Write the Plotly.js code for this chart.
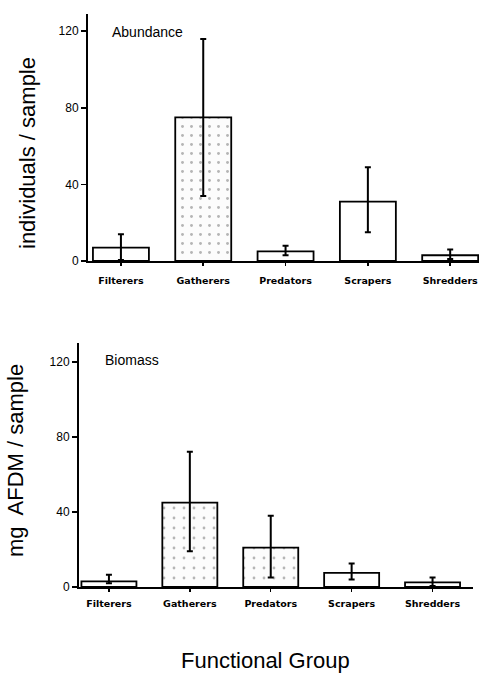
<!DOCTYPE html>
<html>
<head>
<meta charset="utf-8">
<script src="https://cdn.plot.ly/plotly-3.0.1.min.js"></script>
<style>html,body{margin:0;padding:0;background:#fff;}#chart{width:479px;height:675px;}</style>
</head>
<body>
<div id="chart"></div>
<script>
var categories = ["Filterers", "Gatherers", "Predators", "Scrapers", "Shredders"];
var tickLabels = ["Filterers", "Gatherers", "Predators", "Scrapers", "Shredders"];

var abundanceMean  = [7, 75, 5, 31, 3];
var abundanceUpper = [14, 116, 8, 49, 6];
var abundanceLower = [0.5, 34, 3, 15, 1];

var biomassMean  = [3, 45, 21, 7.5, 2.5];
var biomassUpper = [6.5, 72, 38, 12.5, 5];
var biomassLower = [2, 19, 5, 4, 0.5];

var yTicks = [0, 40, 80, 120];

function diff(a, b) { return a.map(function (v, i) { return Math.abs(v - b[i]); }); }

var barLine = {color: "#000", width: 1.8};
var errStyle = {type: "data", symmetric: false, color: "#000", thickness: 2, width: 3};

var traces = [
  {
    type: "bar", x: categories, y: abundanceMean, xaxis: "x", yaxis: "y",
    marker: {color: "#fff", line: barLine,
      pattern: {shape: ["", ".", "", "", ""], fgcolor: "#b5b5b5", bgcolor: "#fcfcfc", size: 9, solidity: 0.08}},
    error_y: Object.assign({array: diff(abundanceUpper, abundanceMean), arrayminus: diff(abundanceMean, abundanceLower)}, errStyle),
    hoverinfo: "none", showlegend: false
  },
  {
    type: "bar", x: categories, y: biomassMean, xaxis: "x2", yaxis: "y2",
    marker: {color: "#fff", line: barLine,
      pattern: {shape: ["", ".", ".", "", ""], fgcolor: "#b5b5b5", bgcolor: "#fcfcfc", size: 10, solidity: 0.06}},
    error_y: Object.assign({array: diff(biomassUpper, biomassMean), arrayminus: diff(biomassMean, biomassLower)}, errStyle),
    hoverinfo: "none", showlegend: false
  }
];

var H = 675, W = 479;
var tickFont = {family: "Liberation Sans, Arial, sans-serif", size: 12, color: "#000"};
var catFont = {family: "DejaVu Sans, sans-serif", size: 9.5, color: "#000", weight: "bold"};
var titleFont = {family: "Liberation Sans, Arial, sans-serif", size: 22, color: "#000"};

function xAxis(domain, anchor, range, standoff) {
  return {domain: domain, anchor: anchor, range: range, type: "category",
    tickvals: categories, ticktext: tickLabels,
    showline: true, linecolor: "#000", linewidth: 2, ticks: "outside", ticklen: 3, tickwidth: 1.5, tickcolor: "#000",
    ticklabelstandoff: standoff,
    tickfont: catFont, showgrid: false, zeroline: false, fixedrange: true};
}
function yAxis(domain, anchor, range) {
  return {domain: domain, anchor: anchor, range: range, tickvals: yTicks, ticktext: yTicks.map(String),
    showline: true, linecolor: "#000", linewidth: 2, ticks: "outside", ticklen: 5, tickwidth: 1.5, tickcolor: "#000",
    tickfont: tickFont, showgrid: false, zeroline: false, fixedrange: true};
}

var layout = {
  width: W, height: H,
  margin: {l: 0, r: 0, t: 0, b: 0},
  paper_bgcolor: "#fff", plot_bgcolor: "rgba(0,0,0,0)",
  bargap: 0.32,
  xaxis: xAxis([88 / W, 1], "y", [-0.4, 4.35], 7),
  yaxis: yAxis([1 - 261 / H, 1 - 14 / H], "x", [0, 129]),
  xaxis2: xAxis([79 / W, 473 / W], "y2", [-0.37, 4.5], 4),
  yaxis2: yAxis([1 - 587 / H, 1 - 343 / H], "x2", [0, 130]),
  annotations: [
    {text: "Abundance", xref: "paper", yref: "paper", x: 110 / W, y: 1 - 32 / H, xanchor: "left", yanchor: "middle",
     showarrow: false, font: {family: "Liberation Sans, Arial, sans-serif", size: 14, color: "#000"}},
    {text: "Biomass", xref: "paper", yref: "paper", x: 103 / W, y: 1 - 360 / H, xanchor: "left", yanchor: "middle",
     showarrow: false, font: {family: "Liberation Sans, Arial, sans-serif", size: 14, color: "#000"}},
    {text: "individuals / sample", xref: "paper", yref: "paper", x: 27 / W, y: 1 - 153 / H, xanchor: "center", yanchor: "middle",
     textangle: -90, showarrow: false, font: titleFont},
    {text: "mg  AFDM / sample", xref: "paper", yref: "paper", x: 15 / W, y: 1 - 461 / H, xanchor: "center", yanchor: "middle",
     textangle: -90, showarrow: false, font: titleFont},
    {text: "Functional Group", xref: "paper", yref: "paper", x: 265 / W, y: 1 - 660 / H, xanchor: "center", yanchor: "middle",
     showarrow: false, font: titleFont}
  ]
};

Plotly.newPlot("chart", traces, layout, {displayModeBar: false, staticPlot: true});
</script>
</body>
</html>
